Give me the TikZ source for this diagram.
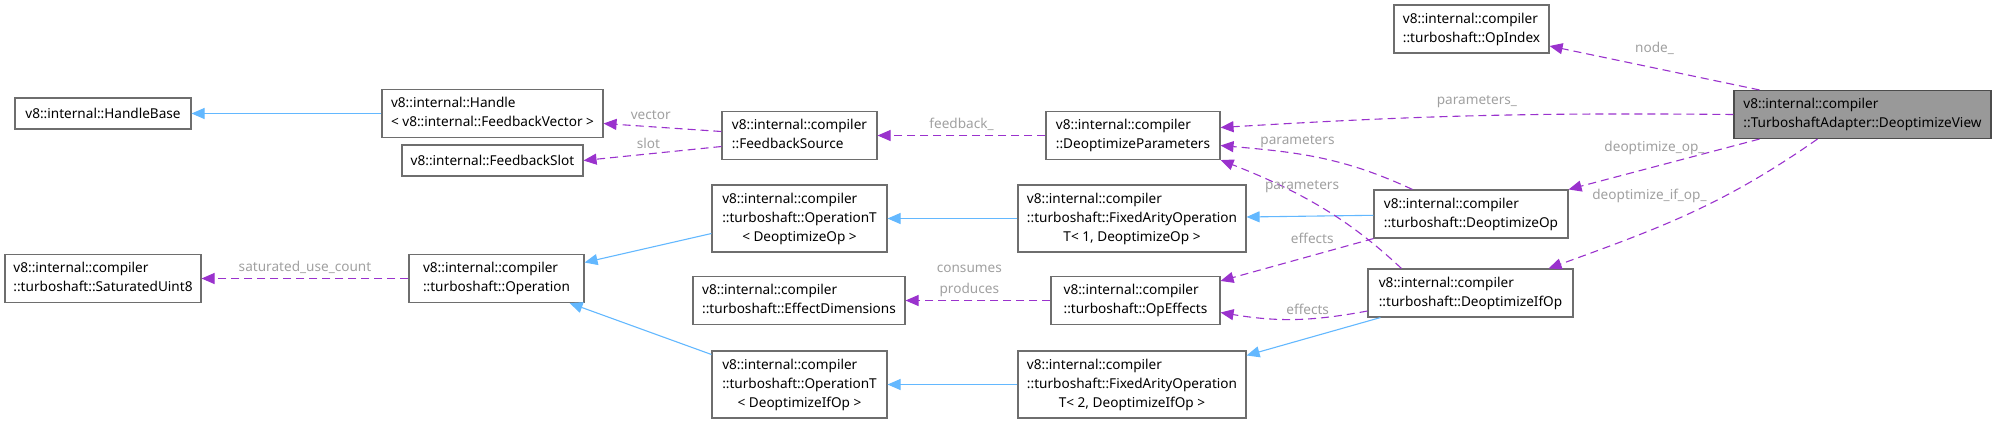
\documentclass[tikz,border=0pt]{standalone}
\usepackage{fontspec}
\setmainfont{Noto Sans}
\usetikzlibrary{arrows.meta, positioning, calc}
\definecolor{inheritblue}{HTML}{63B8FF}
\definecolor{usespurple}{HTML}{9A32CD}
\definecolor{labelgray}{HTML}{A0A0A0}
\definecolor{boxgray}{HTML}{6E6E6E}
\definecolor{focusgray}{HTML}{999999}
\tikzset{
  cls/.style={draw=boxgray, fill=white, line width=1.1pt, inner xsep=8pt, inner ysep=5pt,
    minimum height=31pt, font=\fontsize{13.6}{19}\selectfont},
  focus/.style={cls, draw=black!70, fill=focusgray},
  inherit/.style={draw=inheritblue, line width=1.1pt, -{Triangle[length=13pt, width=11pt]}},
  uses/.style={draw=usespurple, line width=1.1pt, dash pattern=on 8pt off 5pt,
    -{Triangle[length=13pt, width=11pt]}},
  lbl/.style={text=labelgray, inner sep=1pt, font=\fontsize{13.6}{21}\selectfont},
}
\newcommand{\rows}[1]{\begin{tabular}{@{}l@{}}#1\end{tabular}}
\newcommand{\ctr}[1]{\multicolumn{1}{@{}c@{}}{#1}}

\begin{document}
\begin{tikzpicture}[x=1pt, y=-1pt]
  \useasboundingbox (0,0) rectangle (1996,424);

  % classes
  \node[cls, minimum width=176pt] (HandleBase) at (103,113.5) {v8::internal::HandleBase};
  \node[cls, minimum width=221pt] (Handle) at (492.5,113.5) {\rows{v8::internal::Handle\\ < v8::internal::FeedbackVector >}};
  \node[cls, minimum width=181pt] (FbSlot) at (492.5,160.5) {v8::internal::FeedbackSlot};
  \node[cls, minimum width=155pt] (FbSource) at (799.5,135.5) {\rows{v8::internal::compiler\\ ::FeedbackSource}};
  \node[cls, minimum width=174pt] (DeoptParams) at (1133,135.5) {\rows{v8::internal::compiler\\ ::DeoptimizeParameters}};
  \node[cls, minimum width=155pt] (OpIndex) at (1471.5,29) {\rows{v8::internal::compiler\\ ::turboshaft::OpIndex}};
  \node[focus, minimum width=257pt] (DeoptView) at (1862.5,114.5) {\rows{v8::internal::compiler\\ ::TurboshaftAdapter::DeoptimizeView}};
  \node[cls, minimum width=175pt] (OpT1) at (799.5,218.5) {\rows{v8::internal::compiler\\ ::turboshaft::OperationT\\ \ctr{< DeoptimizeOp >}}};
  \node[cls, minimum width=228pt] (FixedArity1) at (1132,218.5) {\rows{v8::internal::compiler\\ ::turboshaft::FixedArityOperation\\ \ctr{T< 1, DeoptimizeOp >}}};
  \node[cls, minimum width=194pt] (DeoptOp) at (1471,214) {\rows{v8::internal::compiler\\ ::turboshaft::DeoptimizeOp}};
  \node[cls, minimum width=196pt] (SatUint8) at (103,278.5) {\rows{v8::internal::compiler\\ ::turboshaft::SaturatedUint8}};
  \node[cls, minimum width=175pt] (Operation) at (496.5,278.5) {\rows{v8::internal::compiler\\ ::turboshaft::Operation}};
  \node[cls, minimum width=212pt] (EffectDims) at (799,300.5) {\rows{v8::internal::compiler\\ ::turboshaft::EffectDimensions}};
  \node[cls, minimum width=169pt] (OpEffects) at (1135.5,300.5) {\rows{v8::internal::compiler\\ ::turboshaft::OpEffects}};
  \node[cls, minimum width=205pt] (DeoptIfOp) at (1470.5,293) {\rows{v8::internal::compiler\\ ::turboshaft::DeoptimizeIfOp}};
  \node[cls, minimum width=175pt] (OpT2) at (799.5,384.5) {\rows{v8::internal::compiler\\ ::turboshaft::OperationT\\ \ctr{< DeoptimizeIfOp >}}};
  \node[cls, minimum width=228pt] (FixedArity2) at (1132,384.5) {\rows{v8::internal::compiler\\ ::turboshaft::FixedArityOperation\\ \ctr{T< 2, DeoptimizeIfOp >}}};

  % inheritance
  \draw[inherit] (Handle) -- (HandleBase);
  \draw[inherit] (FixedArity1) -- (OpT1);
  \draw[inherit] (FixedArity2) -- (OpT2);
  \draw[inherit] (DeoptOp) -- (FixedArity1);
  \draw[inherit] ([xshift=13pt]DeoptIfOp.south west) -- ([yshift=-5pt]FixedArity2.north east);
  \draw[inherit] ([yshift=-15pt]OpT1.west) -- ([yshift=16pt]Operation.east);
  \draw[inherit] ([yshift=30pt]OpT2.west) -- ([xshift=-15pt]Operation.south east);

  % members
  \draw[uses] (Operation) -- (SatUint8) node[lbl, midway, above=3pt] {saturated\_use\_count};
  \draw[uses] ([yshift=4pt]FbSource.west) -- ([yshift=-10pt]Handle.east) node[lbl, pos=.6, above=6pt] {vector};
  \draw[uses] ([yshift=-11pt]FbSource.west) -- (FbSlot.east) node[lbl, pos=.53, above=4pt] {slot};
  \draw[uses] (DeoptParams) -- (FbSource) node[lbl, midway, above=3pt] {feedback\_};
  \draw[uses] (OpEffects) -- (EffectDims) node[lbl, pos=.56, above=2pt, align=center] {consumes\\produces};
  \draw[uses] ([xshift=26pt]DeoptView.north west) -- ([yshift=-17pt]OpIndex.east) node[lbl, midway, above=12pt] {node\_};
  \draw[uses] (DeoptView.west) to[bend right=2] node[lbl, pos=.5, above=6pt] {parameters\_} ([yshift=8pt]DeoptParams.east);
  \draw[uses] ([xshift=26pt]DeoptView.south west) -- (DeoptOp.north east) node[lbl, pos=.55, above=10pt] {deoptimize\_op\_};
  \draw[uses] ([xshift=84pt]DeoptView.south west) to[out=-145, in=20] node[lbl, pos=.42, above left=0pt] {deoptimize\_if\_op\_} ([xshift=-25pt]DeoptIfOp.north east);
  \draw[uses] ([xshift=39pt]DeoptOp.north west) to[out=155, in=-5] node[lbl, pos=.62, above=5pt] {parameters} ([yshift=-10pt]DeoptParams.east);
  \draw[uses] ([xshift=34pt]DeoptIfOp.north west) .. controls (1355,225) and (1310,195) .. (DeoptParams.south east) node[lbl, pos=.64, above=2pt] {parameters};
  \draw[uses] (DeoptOp.south west) -- ([yshift=-5pt]OpEffects.north east) node[lbl, pos=.4, above=10pt] {effects};
  \draw[uses] ([yshift=-18pt]DeoptIfOp.west) to[bend left=10] node[lbl, pos=.4, above=3pt] {effects} ([yshift=-12pt]OpEffects.east);
\end{tikzpicture}
\end{document}
